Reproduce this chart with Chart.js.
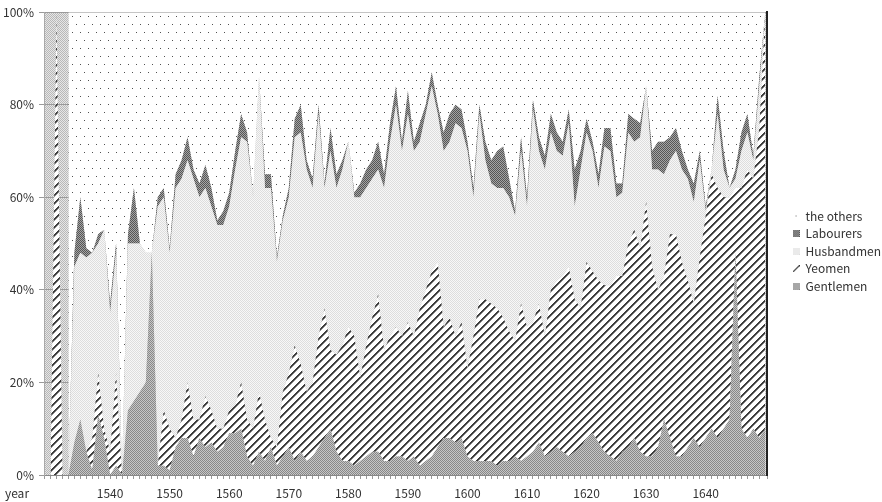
<!DOCTYPE html>
<html><head><meta charset="utf-8">
<script src="https://cdn.jsdelivr.net/npm/chart.js@4.4.0/dist/chart.umd.min.js"></script>
<style>html,body{margin:0;padding:0;background:#fff;}#wrap{width:882px;height:502px;}</style>
</head><body><div id="wrap"><canvas id="c" width="882" height="502"></canvas></div>
<script>
const years = [1529,
1530,1531,1532,1533,1534,1535,1536,1537,1538,1539,
1540,1541,1542,1543,1544,1545,1546,1547,1548,1549,
1550,1551,1552,1553,1554,1555,1556,1557,1558,1559,
1560,1561,1562,1563,1564,1565,1566,1567,1568,1569,
1570,1571,1572,1573,1574,1575,1576,1577,1578,1579,
1580,1581,1582,1583,1584,1585,1586,1587,1588,1589,
1590,1591,1592,1593,1594,1595,1596,1597,1598,1599,
1600,1601,1602,1603,1604,1605,1606,1607,1608,1609,
1610,1611,1612,1613,1614,1615,1616,1617,1618,1619,
1620,1621,1622,1623,1624,1625,1626,1627,1628,1629,
1630,1631,1632,1633,1634,1635,1636,1637,1638,1639,
1640,1641,1642,1643,1644,1645,1646,1647,1648,1649,
1650];
const decadeLabels = [1540,1550,1560,1570,1580,1590,1600,1610,1620,1630,1640];
const gentlemen = [null,
0,0,0,0,7,12,5,1,13,8,
0,2,0,14,16,18,20,48,2,2,
1,6,8,8,4,8,6,7,5,6,
9,9,10,4,2,5,3,6,2,4,
6,3,5,3,4,6,8,10,5,3,
3,2,3,4,5,5,3,3,4,4,
3,4,2,3,4,6,8,8,7,8,
4,3,3,3,3,2,3,3,4,3,
4,5,7,4,5,6,5,4,5,6,
8,9,7,5,4,3,5,6,8,5,
4,4,6,12,8,4,4,6,8,6,
8,10,8,10,12,48,10,8,10,8,
10];
const yeomen = [null,
0,100,0,0,0,0,0,7,9,2,
5,20,0,0,0,0,0,0,0,12,
9,2,4,12,8,4,11,7,5,4,
5,6,10,8,8,13,9,2,4,14,
16,25,19,15,16,24,28,17,21,25,
29,28,18,24,29,34,24,27,28,26,
30,26,34,37,40,40,24,26,23,25,
19,27,35,35,34,34,31,28,25,34,
28,28,30,26,35,36,38,41,33,30,
38,35,35,36,37,40,38,44,45,44,
55,41,34,31,44,48,42,36,29,41,
48,55,54,50,48,14,52,58,54,67,
90];
const husbandmen = [null,
0,0,0,0,38,36,42,40,28,43,
30,26,0,36,34,32,28,0,56,46,
38,54,52,48,52,48,45,44,44,44,
44,51,53,60,50,68,50,54,40,37,
38,45,50,48,42,48,26,43,36,38,
40,30,39,34,30,27,35,42,48,40,
45,40,36,38,40,32,38,38,46,42,
47,30,40,30,26,26,28,29,27,33,
26,46,33,36,34,28,26,31,20,30,
28,26,20,30,29,17,18,24,19,24,
25,21,26,22,16,18,20,22,22,21,
1,1,16,6,2,2,8,8,4,9,
0];
const labourers = [null,
0,0,0,0,3,12,2,0,2,0,
2,2,0,2,12,0,0,0,2,2,
1,3,4,5,2,3,5,4,1,3,
3,4,5,2,0,0,3,3,1,1,
2,4,6,2,2,2,1,5,3,2,
0,1,3,4,4,6,3,4,4,2,
5,2,4,2,3,2,4,6,4,4,
2,2,2,4,5,8,9,4,1,3,
2,2,3,3,4,4,3,3,8,4,
3,2,3,4,5,3,2,4,5,3,
0,4,6,7,5,5,4,2,4,2,
1,0,4,4,0,2,4,4,1,2,
0];
const theOthers = [null,
null,null,null,100,52,40,51,52,48,47,
63,50,100,48,38,50,52,52,40,38,
51,35,32,27,34,37,33,38,45,43,
39,30,22,26,40,14,35,35,53,44,
38,23,20,32,36,20,37,25,35,32,
28,39,37,34,32,28,35,24,16,28,
17,28,24,20,13,20,26,22,20,21,
28,38,20,28,32,30,29,36,43,27,
40,19,27,31,22,26,28,21,34,30,
23,28,35,25,25,37,37,22,23,24,
16,30,28,28,27,25,30,34,37,30,
42,34,18,30,38,34,26,22,31,14,
0];
const seriesNames = ['Gentlemen','Yeomen','Husbandmen','Labourers','the others'];

function tile(w,h,fn){
  const c=document.createElement('canvas'); c.width=w; c.height=h;
  const x=c.getContext('2d');
  for(let i=0;i<w;i++)for(let j=0;j<h;j++){const col=fn(i,j); if(col){x.fillStyle=col;x.fillRect(i,j,1,1);}}
  return c;
}
const ctx0 = document.getElementById('c').getContext('2d');
const pat = t => ctx0.createPattern(t,'repeat');
const fBg   = (i,j)=> (i+j)%2 ? '#e6e6e6' : '#b8b8b8';
const fGent = (i,j)=> (i+j)%2 ? '#c6c6c6' : '#888888';
const fYeo  = (i,j)=> { const d=(i+j)%8; return d<2 ? '#3c3c3c' : (d===2 ? '#8c8c8c' : '#ffffff'); };
const fHus  = (i,j)=> (i+j)%2 ? '#f7f7f7' : '#dddddd';
const fLab  = (i,j)=> (i+j)%2 ? '#a4a4a4' : '#555555';
const fOth  = (i,j)=> ((i===0&&j===0)||(i===4&&j===8)) ? '#505050' : '#ffffff';

const bgPattern = pat(tile(2,2,fBg));
const fills = [pat(tile(2,2,fGent)), pat(tile(8,8,fYeo)), pat(tile(2,2,fHus)), pat(tile(2,2,fLab)), pat(tile(8,16,fOth))];
const symbols = [
  tile(7,7,fGent),
  tile(7,7,(i,j)=> i+j===6 ? '#333333' : (i+j===7 ? '#888888' : null)),
  tile(7,7,fHus),
  tile(7,7,fLab),
  tile(7,7,(i,j)=> (i===3&&j===3) ? '#666666' : null)
];
const values = [gentlemen, yeomen, husbandmen, labourers, theOthers];

const datasets = seriesNames.map((name,k)=>({
  label: name,
  data: values[k],
  backgroundColor: fills[k],
  borderColor: 'rgba(0,0,0,0)',
  borderWidth: 0,
  pointRadius: 0,
  pointHoverRadius: 0,
  pointStyle: symbols[k],
  tension: 0,
  fill: k===0 ? 'origin' : '-1'
}));

const deco = {
  id: 'deco',
  beforeDraw(chart){
    const {ctx, chartArea:a} = chart;
    ctx.save(); ctx.fillStyle = bgPattern;
    ctx.fillRect(a.left, a.top, a.right-a.left, a.bottom-a.top);
    ctx.restore();
  },
  afterDraw(chart){
    const {ctx, chartArea:a} = chart;
    ctx.save();
    ctx.font = '12px "Noto Sans CJK JP", sans-serif';
    ctx.fillStyle = '#333'; ctx.textAlign = 'center'; ctx.textBaseline = 'middle';
    ctx.fillText('year', a.left - 27, a.bottom + 18);
    ctx.restore();
  }
};

Chart.defaults.font.family = '"Noto Sans CJK JP", sans-serif';
Chart.defaults.font.size = 12;
Chart.defaults.color = '#333';

new Chart(document.getElementById('c'), {
  type: 'line',
  data: { labels: years, datasets },
  plugins: [deco],
  options: {
    responsive: false,
    animation: false,
    events: [],
    devicePixelRatio: 1,
    layout: { padding: { left: 0, top: 0, bottom: 0, right: -9 } },
    plugins: {
      tooltip: { enabled: false },
      legend: {
        position: 'right',
        reverse: true,
        labels: { usePointStyle: true, boxWidth: 7, boxHeight: 7, padding: 5.5, color: '#333', font: { size: 12 } }
      }
    },
    scales: {
      x: {
        type: 'linear',
        min: 1528.9, max: 1650.3,
        grid: { display: true, drawOnChartArea: false, drawTicks: true, tickLength: 4, color: '#999' },
        border: { color: '#888' },
        ticks: {
          stepSize: 1, autoSkip: false, maxRotation: 0, padding: 7, color: '#333',
          callback: v => decadeLabels.includes(v) ? String(v) : ''
        },
        afterFit: s => { s.height = 27; }
      },
      y: {
        stacked: true, min: 0, max: 100,
        grid: { color: '#9a9a9a', tickLength: 5 },
        border: { color: '#aaa' },
        ticks: { stepSize: 20, padding: 5, color: '#333', callback: v => v + '%' },
        afterFit: s => { s.width = 44; }
      },
      y2: {
        position: 'right', display: true,
        grid: { display: false, drawTicks: false },
        ticks: { display: false },
        border: { display: true, color: '#222', width: 2 },
        afterFit: s => { s.width = 20; }
      }
    }
  }
});
</script>
</body></html>
